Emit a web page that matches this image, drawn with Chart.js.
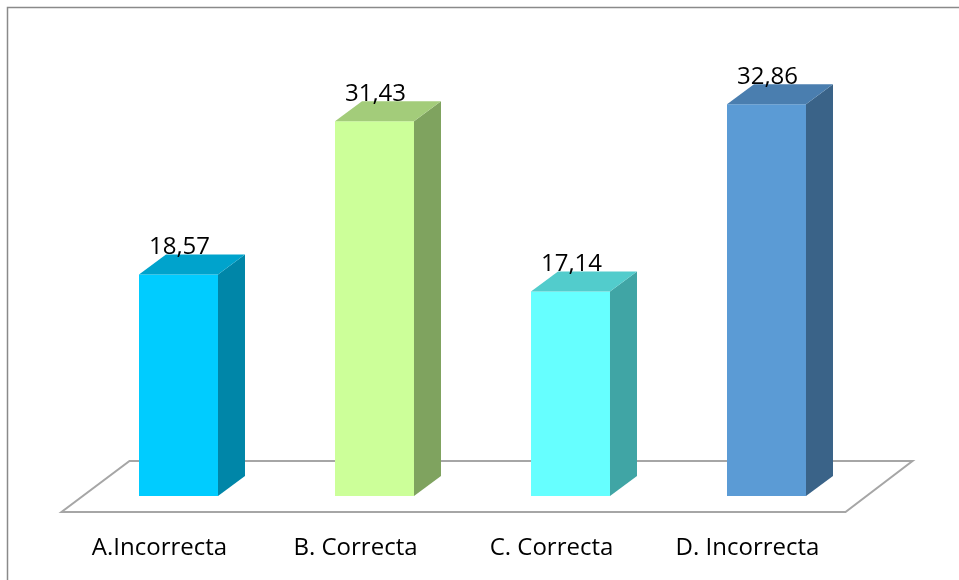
<!DOCTYPE html>
<html lang="es">
<head>
<meta charset="UTF-8">
<title>Respuestas</title>
<style>
  html, body { margin: 0; padding: 0; background: #fff; }
  .chart-container { position: relative; width: 959px; height: 580px; }
</style>
</head>
<body>
<div class="chart-container"><canvas id="barChart"></canvas></div>
<script src="https://cdn.jsdelivr.net/npm/chart.js"></script>
<script>
const categories = ['A.Incorrecta', 'B. Correcta', 'C. Correcta', 'D. Incorrecta'];
const percentages = [18.57, 31.43, 17.14, 32.86];
const frontColors = ['#00CCFF', '#CCFF99', '#66FFFF', '#5B9BD5'];
const sideColors = ['#0086A8', '#7FA35F', '#40A5A5', '#3A6388'];
const topColors = ['#00A3CC', '#A3CC7A', '#52CCCC', '#4A7EAF'];

const FONT = "'Open Sans', 'Liberation Sans', sans-serif";
const depthX = 27, depthY = 20;   // fake 3D depth of every box

function poly(ctx, pts, fill, stroke) {
  ctx.beginPath();
  ctx.moveTo(pts[0][0], pts[0][1]);
  for (let i = 1; i < pts.length; i++) ctx.lineTo(pts[i][0], pts[i][1]);
  ctx.closePath();
  if (fill) { ctx.fillStyle = fill; ctx.fill(); }
  if (stroke) { ctx.stroke(); }
}

const box3d = {
  id: 'box3d',
  beforeDraw(chart) {
    // outer frame (only top and left edges are inside the canvas)
    const ctx = chart.ctx;
    ctx.save();
    ctx.strokeStyle = '#8a8a8a';
    ctx.lineWidth = 1.5;
    ctx.beginPath();
    ctx.moveTo(7.5, chart.height + 5);
    ctx.lineTo(7.5, 7.5);
    ctx.lineTo(chart.width + 5, 7.5);
    ctx.stroke();
    ctx.restore();
  },
  beforeDatasetsDraw(chart) {
    // floor plane
    const {ctx, chartArea: a} = chart;
    ctx.save();
    ctx.strokeStyle = '#a6a6a6';
    ctx.lineWidth = 2;
    poly(ctx, [
      [a.left - 19, a.bottom + 16],
      [a.right - 19, a.bottom + 16],
      [a.right + 48, a.bottom - 35],
      [a.left + 49, a.bottom - 35]
    ], '#ffffff', true);
    ctx.restore();
  },
  afterDatasetsDraw(chart) {
    const ctx = chart.ctx;
    const bars = chart.getDatasetMeta(0).data;
    ctx.save();
    bars.forEach((bar, i) => {
      const {x, y, base, width} = bar.getProps(['x', 'y', 'base', 'width'], true);
      const l = x - width / 2, r = x + width / 2;
      // right side
      poly(ctx, [[r, y], [r + depthX, y - depthY], [r + depthX, base - depthY], [r, base]], sideColors[i]);
      // top
      poly(ctx, [[l, y], [r, y], [r + depthX, y - depthY], [l + depthX, y - depthY]], topColors[i]);
      // value label
      ctx.fillStyle = '#000';
      ctx.font = '24px ' + FONT;
      ctx.textAlign = 'center';
      ctx.textBaseline = 'middle';
      ctx.fillText(percentages[i].toFixed(2).replace('.', ','), x + 1, y - 27);
    });
    ctx.restore();
  }
};

new Chart(document.getElementById('barChart'), {
  type: 'bar',
  data: {
    labels: categories,
    datasets: [{
      data: percentages,
      backgroundColor: frontColors,
      borderWidth: 0,
      barPercentage: 0.403,
      categoryPercentage: 1
    }]
  },
  options: {
    responsive: true,
    maintainAspectRatio: false,
    animation: false,
    layout: { padding: { left: 80.5, right: 94.5, top: 19, bottom: 0 } },
    plugins: { legend: { display: false }, tooltip: { enabled: false } },
    scales: {
      x: {
        grid: { display: false },
        border: { display: false },
        afterFit(scale) { scale.height = 84; },
        ticks: {
          color: '#000',
          font: { size: 24, family: FONT },
          padding: 30,
          labelOffset: -19,
          maxRotation: 0
        }
      },
      y: { display: false, min: 0, max: 40 }
    }
  },
  plugins: [box3d]
});
</script>
</body>
</html>
